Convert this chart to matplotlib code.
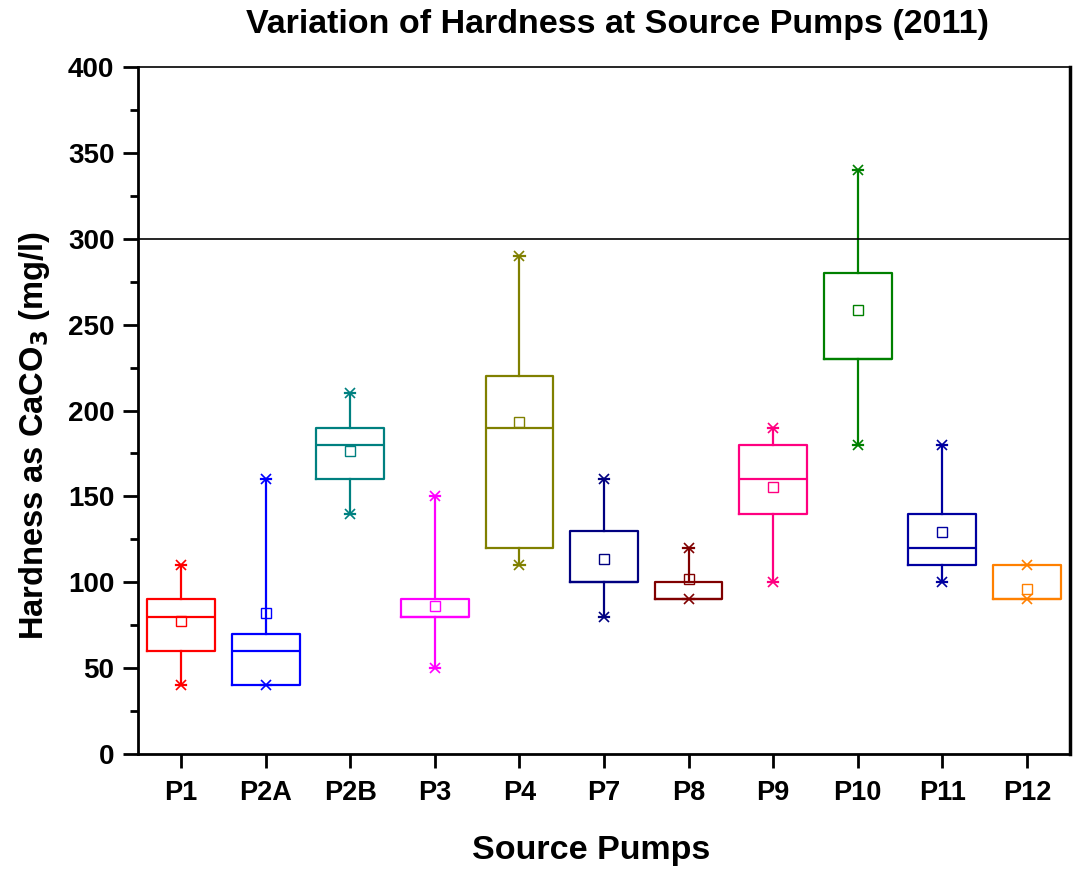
import numpy as np
import matplotlib
matplotlib.use('Agg')
import matplotlib.pyplot as plt
from matplotlib.ticker import MultipleLocator

plt.rcParams['font.family'] = ['Liberation Sans', 'DejaVu Sans']
plt.rcParams['font.weight'] = 'bold'
plt.rcParams['mathtext.default'] = 'bf'

# 各水泵的硬度统计值 (mg/l)
pumps = ['P1', 'P2A', 'P2B', 'P3', 'P4', 'P7', 'P8', 'P9', 'P10', 'P11', 'P12']
v_min = [40, 40, 140, 50, 110, 80, 90, 100, 180, 100, 90]
v_q1 = [60, 40, 160, 80, 120, 100, 90, 140, 230, 110, 90]
v_med = [80, 60, 180, 80, 190, 100, 90, 160, 230, 120, 90]
v_q3 = [90, 70, 190, 90, 220, 130, 100, 180, 280, 140, 110]
v_max = [110, 160, 210, 150, 290, 160, 120, 190, 340, 180, 110]
v_mean = [77.5, 82, 176.5, 86, 193.5, 113.5, 102, 155.5, 258.5, 129.5, 96]
limit = 300

colors = ['#FF0000', '#0000FF', '#008080', '#FF00FF', '#808000', '#000080',
          '#800000', '#FF0080', '#008000', '#0000A0', '#FF8000']

fig = plt.figure(figsize=(10.8, 8.69), dpi=100)
ax = fig.add_axes([138/1080, 1-754/869, (1070-138)/1080, (754-67)/869])

for i in range(len(pumps)):
    c = colors[i]
    pos = i + 1
    stats = [dict(med=v_med[i], q1=v_q1[i], q3=v_q3[i], whislo=v_min[i],
                  whishi=v_max[i], mean=v_mean[i], fliers=[], label=pumps[i])]
    ax.bxp(stats, positions=[pos], widths=0.8, capwidths=0.12,
           showmeans=True, showfliers=False, manage_ticks=False,
           boxprops=dict(color=c, linewidth=1.6),
           medianprops=dict(color=c, linewidth=1.6),
           whiskerprops=dict(color=c, linewidth=1.6),
           capprops=dict(color=c, linewidth=1.6),
           meanprops=dict(marker='s', markerfacecolor='none',
                          markeredgecolor=c, markersize=6.5, markeredgewidth=1))
    # 极值处的 × 标记
    ax.plot([pos, pos], [v_min[i], v_max[i]], linestyle='none', marker='x',
            color=c, markersize=7.5, markeredgewidth=1.2)

ax.axhline(limit, color='black', linewidth=1.2)

ax.set_xlim(0.49, 11.51)
ax.set_ylim(0, 400)
ax.set_xticks(range(1, len(pumps) + 1))
ax.set_xticklabels(pumps)
ax.yaxis.set_major_locator(MultipleLocator(50))
ax.yaxis.set_minor_locator(MultipleLocator(25))

ax.tick_params(axis='y', which='major', direction='out', length=11, width=2,
               labelsize=20, pad=6)
ax.tick_params(axis='y', which='minor', direction='out', length=6, width=2)
ax.tick_params(axis='x', which='major', direction='out', length=10, width=2,
               labelsize=19.5, pad=9)
for lab in ax.get_xticklabels() + ax.get_yticklabels():
    lab.set_fontweight('bold')

ax.spines['left'].set_linewidth(2)
ax.spines['bottom'].set_linewidth(2)
ax.spines['right'].set_linewidth(2.5)
ax.spines['top'].set_linewidth(1.2)

fig.text(617/1080, 1-25/869, 'Variation of Hardness at Source Pumps (2011)',
         fontsize=24.5, fontweight='bold', ha='center', va='center')
fig.text(591/1080, 1-850/869, 'Source Pumps', fontsize=24.5, fontweight='bold',
         ha='center', va='center')
fig.text(35/1080, 1-435/869, 'Hardness as CaCO$_\\mathbf{3}$ (mg/l)', fontsize=23.5,
         fontweight='bold', ha='center', va='center', rotation=90)

fig.savefig('out.png', dpi=100)
